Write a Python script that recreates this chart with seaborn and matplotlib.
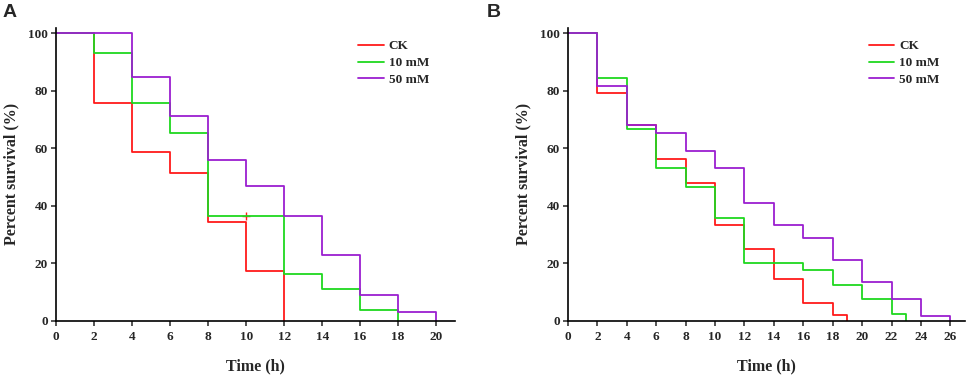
import numpy as np
import pandas as pd
import seaborn as sns
import matplotlib.pyplot as plt

# dados (Kaplan-Meier, % de sobrevivencia)
grupos = ['CK', '10 mM', '50 mM']
cores = ['#ff1a1a', '#1fd81f', '#9b1fd0']

# painel A
a_ck_t = [0, 2, 4, 6, 8, 10, 12]
a_ck_s = [100, 75.8, 58.6, 51.5, 34.3, 17.2, 0]
a_10_t = [0, 2, 4, 6, 8, 12, 14, 16, 18]
a_10_s = [100, 93.1, 75.9, 65.5, 36.3, 16.3, 10.9, 3.6, 0]
a_50_t = [0, 4, 6, 8, 10, 12, 14, 16, 18, 20]
a_50_s = [100, 84.8, 71.2, 56.0, 47.0, 36.4, 22.7, 9.1, 3.0, 0]
a_censura_t = [10]
a_censura_s = [36.3]

# painel B
b_ck_t = [0, 2, 4, 6, 8, 10, 12, 14, 16, 18, 19]
b_ck_s = [100, 79.2, 68.0, 56.2, 47.9, 33.3, 25.0, 14.6, 6.2, 2.1, 0]
b_10_t = [0, 2, 4, 6, 8, 10, 12, 16, 18, 20, 22, 23]
b_10_s = [100, 84.4, 66.7, 53.3, 46.7, 35.6, 20.0, 17.5, 12.5, 7.5, 2.5, 0]
b_50_t = [0, 2, 4, 6, 8, 10, 12, 14, 16, 18, 20, 22, 24, 26]
b_50_s = [100, 81.8, 68.2, 65.2, 59.1, 53.0, 40.9, 33.3, 28.8, 21.2, 13.6, 7.6, 1.5, 0]

xticks_a = list(range(0, 21, 2))
xticks_b = list(range(0, 27, 2))
yticks = [0, 20, 40, 60, 80, 100]


def monta_df(series):
    partes = []
    for g, (t, s) in zip(grupos, series):
        partes.append(pd.DataFrame({'tempo': t, 'sobrev': s, 'grupo': g}))
    return pd.concat(partes, ignore_index=True)


df_a = monta_df([(a_ck_t, a_ck_s), (a_10_t, a_10_s), (a_50_t, a_50_s)])
df_b = monta_df([(b_ck_t, b_ck_s), (b_10_t, b_10_s), (b_50_t, b_50_s)])

sns.set_style('ticks')
plt.rcParams['font.family'] = ['Liberation Serif', 'DejaVu Serif']
plt.rcParams['font.weight'] = 'bold'

fig = plt.figure(figsize=(9.69, 3.75), dpi=100)
ax_a = fig.add_axes([0.0581, 0.1448, 0.4115, 0.7813])
ax_b = fig.add_axes([0.5862, 0.1448, 0.4097, 0.7813])

paleta = dict(zip(grupos, cores))

for ax, df, xt, xmax in [(ax_a, df_a, xticks_a, 21), (ax_b, df_b, xticks_b, 27)]:
    sns.lineplot(data=df, x='tempo', y='sobrev', hue='grupo', palette=paleta,
                 drawstyle='steps-post', estimator=None, sort=False,
                 linewidth=1.3, ax=ax)
    ax.set_xlim(0, xmax)
    ax.set_ylim(0, 102)
    ax.set_xticks(xt)
    ax.set_yticks(yticks)
    ax.tick_params(labelsize=9.5, length=3.5, width=1.1, pad=2.5)
    ax.tick_params(axis='x', pad=4)
    for lab in ax.get_xticklabels() + ax.get_yticklabels():
        lab.set_fontweight('bold')
    for lado in ['top', 'right']:
        ax.spines[lado].set_visible(False)
    for lado in ['left', 'bottom']:
        ax.spines[lado].set_linewidth(1.2)
        ax.spines[lado].set_color('black')
    ax.set_xlabel('Time (h)', fontsize=11.5, fontweight='bold', labelpad=11)
    ax.set_ylabel('Percent survival (%)', fontsize=11.5, fontweight='bold', labelpad=6)
    ax.legend(frameon=False, loc='upper right', bbox_to_anchor=(0.965, 0.998),
              prop={'family': 'Liberation Serif', 'weight': 'bold', 'size': 9.5},
              handlelength=1.9, handletextpad=0.4, labelspacing=0.35)

# marca de censura vermelha no painel A
sns.scatterplot(x=a_censura_t, y=a_censura_s, marker='+', color=cores[0],
                s=30, linewidth=1, ax=ax_a, legend=False)

fig.text(0.003, 0.955, 'A', fontsize=14, fontweight='bold', family='Liberation Sans')
fig.text(0.5025, 0.955, 'B', fontsize=14, fontweight='bold', family='Liberation Sans')

plt.savefig('out.png', dpi=100)
